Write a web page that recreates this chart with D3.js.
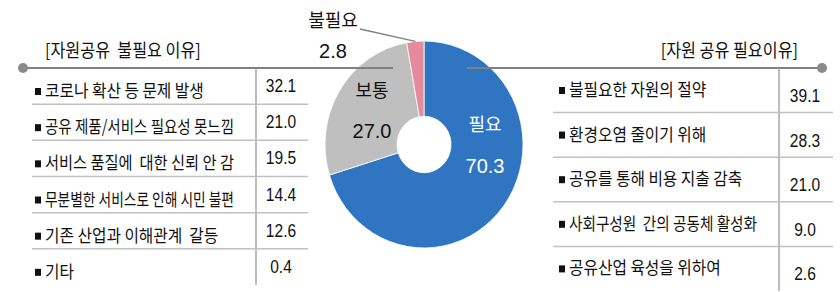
<!DOCTYPE html>
<html>
<head>
<meta charset="utf-8">
<script src="https://cdn.jsdelivr.net/npm/d3@7"></script>
<style>
  body { margin: 0; background: #fff; }
  text { font-family: "Noto Sans CJK KR", "Noto Sans", sans-serif; fill: #111; white-space: pre; }
  .num { font-family: "Liberation Sans", Arial, sans-serif; }
</style>
</head>
<body>
<div id="chart"></div>
<script>
// pie data
var pieLabels = ["필요", "보통", "불필요"];
var pieValues = [70.3, 27.0, 2.8];
var pieColors = ["#2f75c1", "#bfbfbf", "#e58b9c"];

// left table: reasons not needed
var leftTitle = "[자원공유  불필요 이유]";
var leftLabels = ["코로나 확산 등 문제 발생", "공유 제품/서비스 필요성 못느낌", "서비스 품질에  대한 신뢰 안 감",
  "무분별한 서비스로 인해 시민 불편", "기존 산업과 이해관계  갈등", "기타"];
var leftValues = [32.1, 21.0, 19.5, 14.4, 12.6, 0.4];

// right table: reasons needed
var rightTitle = "[자원 공유 필요이유]";
var rightLabels = ["불필요한 자원의 절약", "환경오염 줄이기 위해", "공유를 통해 비용 지출 감축",
  "사회구성원  간의 공동체 활성화", "공유산업 육성을 위하여"];
var rightValues = [39.1, 28.3, 21.0, 9.0, 2.6];

var width = 840, height = 292;
var svg = d3.select("#chart").append("svg")
  .attr("width", width).attr("height", height);

var lineY = 68;
var sx = 0.9; // slightly condensed text

//donut
var cx = 424, cy = 144.5;
var outerR = 99, innerR = 27;
var pie = d3.pie().sort(null).value(function(d) { return d; });
var arc = d3.arc().innerRadius(innerR).outerRadius(outerR);
var arcs = pie(pieValues);

var donut = svg.append("g")
  .attr("transform", "translate(" + cx + "," + cy + ") scale(1,1.045)");
donut.selectAll("path").data(arcs).enter().append("path")
  .attr("d", arc)
  .attr("fill", function(d, i) { return pieColors[i]; })
  .attr("stroke", "#fff")
  .attr("stroke-width", 0.8);

//connector lines
svg.append("line").attr("x1", 23).attr("x2", 393)
  .attr("y1", lineY).attr("y2", lineY)
  .attr("stroke", "#808080").attr("stroke-width", 2);
svg.append("line").attr("x1", 467).attr("x2", 822)
  .attr("y1", lineY).attr("y2", lineY)
  .attr("stroke", "#808080").attr("stroke-width", 2);
svg.append("circle").attr("cx", 23).attr("cy", lineY).attr("r", 5).attr("fill", "#8a8a8a");
svg.append("circle").attr("cx", 822).attr("cy", lineY).attr("r", 5).attr("fill", "#8a8a8a");

// leader for small slice
var pinkMid = (arcs[2].startAngle + arcs[2].endAngle) / 2;
svg.append("line")
  .attr("x1", 360).attr("y1", 29)
  .attr("x2", cx + Math.sin(pinkMid) * outerR)
  .attr("y2", cy - Math.cos(pinkMid) * outerR * 1.045)
  .attr("stroke", "#808080").attr("stroke-width", 1.3);

// pie labels
function pieText(str, x, y, cls, color, size) {
  svg.append("text").attr("x", x).attr("y", y)
    .attr("class", cls).attr("text-anchor", "middle")
    .style("font-size", size + "px").style("fill", color).text(str);
}
pieText(pieLabels[0], 485, 131, "", "#fff", 18);
pieText(pieValues[0].toFixed(1), 485, 173, "num", "#fff", 20);
pieText(pieLabels[1], 372, 97, "", "#111", 18);
pieText(pieValues[1].toFixed(1), 372, 138, "num", "#111", 20);
pieText(pieLabels[2], 333, 27, "", "#111", 18);
pieText(pieValues[2].toFixed(1), 333, 58, "num", "#111", 20);

// tables
function drawTable(opt) {
  var n = opt.labels.length;
  var y = d3.scaleBand().domain(d3.range(n)).range([lineY, opt.bottom]);
  var g = svg.append("g");

  // title
  g.append("text")
    .attr("transform", "translate(" + opt.titleX + ",57) scale(0.9,1)")
    .attr("text-anchor", opt.titleAnchor)
    .style("font-size", "18px")
    .text(opt.title);

  // vertical divider
  g.append("line").attr("x1", opt.divX).attr("x2", opt.divX)
    .attr("y1", lineY).attr("y2", opt.bottom)
    .attr("stroke", "#a6a6a6").attr("stroke-width", 1.5);

  // row separators
  g.selectAll(".sep").data(d3.range(1, n)).enter().append("line")
    .attr("x1", opt.x0).attr("x2", opt.x1)
    .attr("y1", function(d) { return y(d); })
    .attr("y2", function(d) { return y(d); })
    .attr("stroke", "#c0c0c0").attr("stroke-width", 1.5);

  var rows = g.selectAll(".row").data(opt.labels).enter().append("g");
  rows.append("rect")
    .attr("x", opt.bulletX)
    .attr("y", function(d, i) { return y(i) + opt.textDy - 9; })
    .attr("width", 6).attr("height", 7)
    .attr("fill", "#111");
  // max width so label stays left of the divider
  var maxW = (opt.divX - opt.textX - 22) / sx;
  rows.append("text")
    .attr("transform", function(d, i) {
      return "translate(" + opt.textX + "," + (y(i) + opt.textDy) + ") scale(" + sx + ",1)";
    })
    .style("font-size", "17.5px")
    .text(function(d) { return d; })
    .each(function() {
      if (this.getComputedTextLength() > maxW) {
        d3.select(this).attr("textLength", maxW).attr("lengthAdjust", "spacingAndGlyphs");
      }
    });
  rows.append("text")
    .attr("class", "num")
    .attr("text-anchor", "middle")
    .attr("transform", function(d, i) {
      return "translate(" + opt.valX + "," + (y(i) + opt.valDy) + ") scale(0.82,1)";
    })
    .style("font-size", "19px")
    .text(function(d, i) { return opt.values[i].toFixed(1); });
}

drawTable({
  title: leftTitle, labels: leftLabels, values: leftValues,
  titleX: 45, titleAnchor: "start", bottom: 285,
  divX: 256, x0: 32, x1: 308,
  bulletX: 35, textX: 45, textDy: 29, valX: 281, valDy: 24
});
drawTable({
  title: rightTitle, labels: rightLabels, values: rightValues,
  titleX: 798, titleAnchor: "end", bottom: 291,
  divX: 779, x0: 553, x1: 833,
  bulletX: 559, textX: 569, textDy: 28, valX: 805, valDy: 34
});
</script>
</body>
</html>
